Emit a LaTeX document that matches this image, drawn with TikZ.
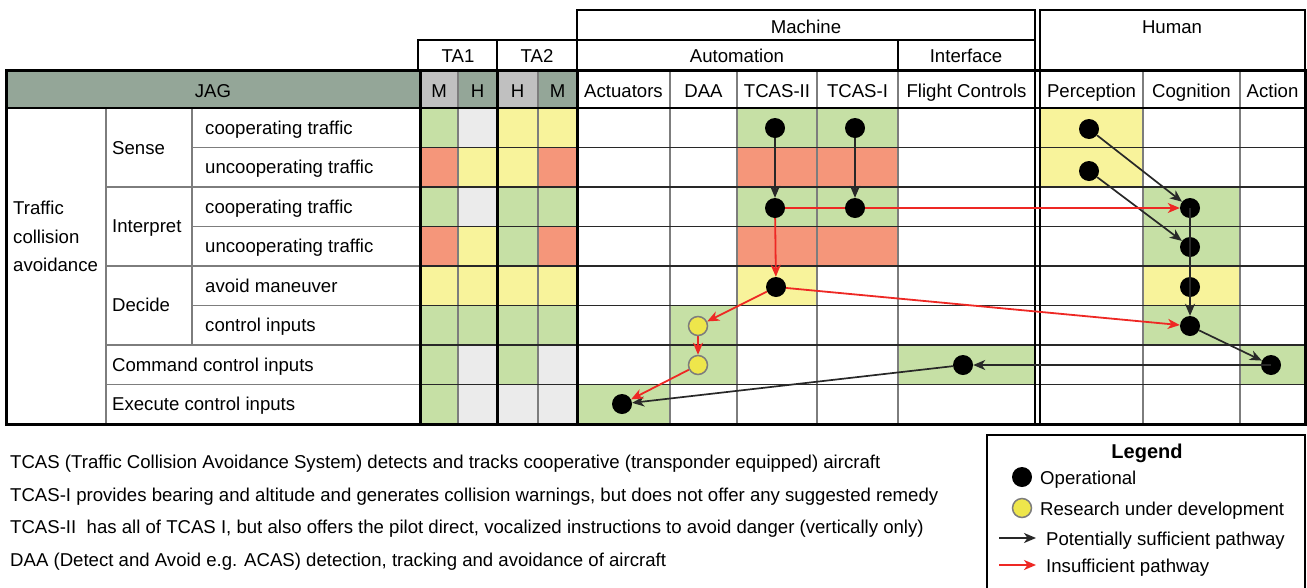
\documentclass[tikz,border=0pt]{standalone}
\usepackage{fontspec}
\setmainfont{Liberation Sans}
\usetikzlibrary{arrows.meta}
\pgfdeclarelayer{back}
\pgfdeclarelayer{conn}
\pgfsetlayers{back,conn,main}
\definecolor{cg}{RGB}{198,224,165}
\definecolor{cy}{RGB}{248,243,155}
\definecolor{cs}{RGB}{245,150,122}
\definecolor{cl}{RGB}{235,235,235}
\definecolor{jag}{RGB}{148,166,152}
\definecolor{hl}{RGB}{192,192,192}
\definecolor{dy}{RGB}{238,230,75}
\definecolor{ar}{RGB}{238,40,36}
\definecolor{ak}{RGB}{40,40,40}
\definecolor{gl}{RGB}{125,125,125}
\newcommand\cf[4]{\pgfmathsetmacro\ya{108+(#4-1)*39.5}\pgfmathsetmacro\yb{\ya+39.5}\fill[#1] (#2,\ya) rectangle (#3,\yb);}
\begin{document}
\begin{tikzpicture}[x=1pt,y=-1pt,
  every node/.style={font=\fontsize{18.6}{22}\selectfont, inner sep=0pt, text height=16pt, text depth=1pt},
  lbl/.style={anchor=west},
  dot/.style={circle, fill=black, minimum size=20pt, inner sep=0pt, text height=, text depth=},
  ydot/.style={circle, fill=dy, draw=gl, line width=1.5pt, minimum size=19pt, inner sep=0pt, text height=, text depth=},
  blk/.style={draw=ak, line width=1.7pt, -{Stealth[length=12pt,width=10pt,inset=3.5pt]}},
  rda/.style={draw=ar, line width=1.8pt, -{Stealth[length=12pt,width=10pt,inset=3.5pt]}},
  gline/.style={draw=gl, line width=1.2pt},
  hline/.style={draw=ak, line width=1.3pt},
  bord/.style={draw=black, line width=3pt},
  hbox/.style={draw=black, line width=1.5pt}]
\useasboundingbox (0,0) rectangle (1307,587);
\begin{pgfonlayer}{back}
\fill[white] (0,0) rectangle (1307,587);
% header row fills
\fill[jag] (6,70) rectangle (420,108);
\fill[hl] (420,70) rectangle (458,108);
\fill[jag] (458,70) rectangle (497,108);
\fill[hl] (497,70) rectangle (538,108);
\fill[jag] (538,70) rectangle (577,108);
% TA cells: M1 420-458, H1 458-497, H2 497-538, M2 538-577
\cf{cg}{420}{458}{1}\cf{cl}{458}{497}{1}\cf{cy}{497}{538}{1}\cf{cy}{538}{577}{1}
\cf{cs}{420}{458}{2}\cf{cy}{458}{497}{2}\cf{cy}{497}{538}{2}\cf{cs}{538}{577}{2}
\cf{cg}{420}{458}{3}\cf{cl}{458}{497}{3}\cf{cg}{497}{538}{3}\cf{cg}{538}{577}{3}
\cf{cs}{420}{458}{4}\cf{cy}{458}{497}{4}\cf{cg}{497}{538}{4}\cf{cs}{538}{577}{4}
\cf{cy}{420}{458}{5}\cf{cy}{458}{497}{5}\cf{cy}{497}{538}{5}\cf{cy}{538}{577}{5}
\cf{cg}{420}{458}{6}\cf{cg}{458}{497}{6}\cf{cg}{497}{538}{6}\cf{cg}{538}{577}{6}
\cf{cg}{420}{458}{7}\cf{cl}{458}{497}{7}\cf{cg}{497}{538}{7}\cf{cl}{538}{577}{7}
\cf{cg}{420}{458}{8}\cf{cl}{458}{497}{8}\cf{cl}{497}{538}{8}\cf{cl}{538}{577}{8}
% machine / human cells
\cf{cg}{737}{898}{1}\cf{cy}{1040}{1143}{1}
\cf{cs}{737}{898}{2}\cf{cy}{1040}{1143}{2}
\cf{cg}{737}{898}{3}\cf{cg}{1143}{1240}{3}
\cf{cs}{737}{898}{4}\cf{cg}{1143}{1240}{4}
\cf{cy}{737}{817}{5}\cf{cy}{1143}{1240}{5}
\cf{cg}{670}{737}{6}\cf{cg}{1143}{1240}{6}
\cf{cg}{670}{737}{7}\cf{cg}{898}{1035}{7}\cf{cg}{1240}{1305}{7}
\cf{cg}{577}{670}{8}
% thin vertical lines
\draw[gline] (106,108) -- (106,424);
\draw[gline] (192,108) -- (192,345);
\foreach \x in {458,538,670,737,817,898,1143,1240} \draw[gline] (\x,70) -- (\x,424);
% horizontal lines
\draw[gline] (192,147.5) -- (420,147.5);
\draw[gline] (106,187) -- (420,187);
\draw[gline] (192,226.5) -- (420,226.5);
\draw[gline] (106,266) -- (420,266);
\draw[gline] (192,305.5) -- (420,305.5);
\draw[gline] (106,345) -- (420,345);
\draw[gline] (106,384.5) -- (420,384.5);
\foreach \y in {147.5,187,226.5,266,305.5,345,384.5} \draw[hline] (420,\y) -- (1305,\y);
\draw[draw=black, line width=2pt] (6,108) -- (1305,108);
% thick lines
\draw[bord] (6,70) rectangle (1305,424);
\foreach \x in {420,497,577} \draw[bord] (\x,70) -- (\x,424);
\draw[draw=black, line width=1.8pt] (1035,70) -- (1035,424);
\draw[draw=black, line width=1.8pt] (1040,70) -- (1040,424);
% header boxes
\draw[hbox] (418,40) rectangle (497,70);
\draw[hbox] (497,40) rectangle (577,70);
\draw[hbox] (577,10) rectangle (1035,70);
\draw[hbox] (577,40) -- (1035,40);
\draw[hbox] (898,40) -- (898,70);
\draw[hbox] (1040,10) rectangle (1305,70);
% legend box
\draw[hbox] (987,595) -- (987,435) -- (1305,435) -- (1305,595);
\end{pgfonlayer}
% header texts
\node (machine) at (806,26) {Machine};
\node (human) at (1172,26) {Human};
\node (ta1) at (458,55) {TA1};
\node (ta2) at (537,55) {TA2};
\node (automation) at (737,55) {Automation};
\node (interface) at (966,55) {Interface};
\node (jagt) at (213,90) {JAG};
\node (hm1) at (439,90) {M};
\node (hh1) at (477.5,90) {H};
\node (hh2) at (517.5,90) {H};
\node (hm2) at (557.5,90) {M};
\node (hact) at (623.5,90) {Actuators};
\node (hdaa) at (703.5,90) {DAA};
\node (htc2) at (777,90) {TCAS-II};
\node (htc1) at (857.5,90) {TCAS-I};
\node (hfc) at (966.5,90) {Flight Controls};
\node (hper) at (1091.5,90) {Perception};
\node (hcog) at (1191.5,90) {Cognition};
\node (hactn) at (1272.5,90) {Action};
% row texts
\node[lbl] (tca1) at (13,207) {Traffic};
\node[lbl] (tca2) at (13,236) {collision};
\node[lbl] (tca3) at (13,264) {avoidance};
\node[lbl] (sense) at (112,147) {Sense};
\node[lbl] (interp) at (112,225) {Interpret};
\node[lbl] (decide) at (112,304) {Decide};
\node[lbl] (r1) at (205,126.5) {cooperating traffic};
\node[lbl] (r2) at (205,166) {uncooperating traffic};
\node[lbl] (r3) at (205,205.5) {cooperating traffic};
\node[lbl] (r4) at (205,245) {uncooperating traffic};
\node[lbl] (r5) at (205,284.5) {avoid maneuver};
\node[lbl] (r6) at (205,324) {control inputs};
\node[lbl] (r7) at (112,363.5) {Command control inputs};
\node[lbl] (r8) at (112,403) {Execute control inputs};
% dots
\node[dot] (t2a) at (775,128) {};
\node[dot] (t1a) at (855,128) {};
\node[dot] (t2c) at (775,208) {};
\node[dot] (t1c) at (855,208) {};
\node[dot] (t2e) at (776,287) {};
\node[ydot] (d6) at (698,326) {};
\node[ydot] (d7) at (698,365) {};
\node[dot] (act) at (622,404) {};
\node[dot] (fc) at (963,365) {};
\node[dot] (p1) at (1089,129) {};
\node[dot] (p2) at (1089,171) {};
\node[dot] (c3) at (1190,208) {};
\node[dot] (c4) at (1190,247) {};
\node[dot] (c5) at (1190,287) {};
\node[dot] (c6) at (1190,326) {};
\node[dot] (ac) at (1271,365) {};
\begin{pgfonlayer}{conn}
\draw[blk] (t2a) -- (t2c);
\draw[blk] (t1a) -- (t1c);
\draw[blk] (p1) -- (c3);
\draw[blk] (p2) -- (c4);
\draw[blk] (c6) -- (ac);
\draw[blk] (fc) -- (act);
\draw[rda] (t2c) -- (c3);
\draw[rda] (t2c) -- (t2e);
\draw[rda] (t2e) -- (d6);
\draw[rda] (t2e) -- (c6);
\draw[rda] (d6) -- (d7);
\draw[rda] (d7) -- (act);
\end{pgfonlayer}
\draw[blk] (c3.center) -- (c6);
\draw[blk] (ac.center) -- (fc);
% notes
\node[lbl] (n1) at (10,461) {TCAS (Traffic Collision Avoidance System) detects and tracks cooperative (transponder equipped) aircraft};
\node[lbl] (n2) at (10,494) {TCAS-I provides bearing and altitude and generates collision warnings, but does not offer any suggested remedy};
\node[lbl] (n3) at (10,526) {TCAS-II\ \ has all of TCAS I, but also offers the pilot direct, vocalized instructions to avoid danger (vertically only)};
\node[lbl] (n4) at (10,559) {DAA (Detect and Avoid e.g. ACAS) detection, tracking and avoidance of aircraft};
% legend
\node[font=\fontsize{20}{24}\selectfont\bfseries] (leg) at (1147,451) {Legend};
\node[dot] (ldot) at (1022,477) {};
\node[lbl] (lop) at (1040,477) {Operational};
\node[ydot] (lydot) at (1022,508) {};
\node[lbl] (lres) at (1040,508) {Research under development};
\coordinate (lka) at (999,538);
\coordinate (lkb) at (1036,538);
\draw[blk] (lka) -- (lkb);
\node[lbl] (lpot) at (1046,538) {Potentially sufficient pathway};
\coordinate (lra) at (999,565);
\coordinate (lrb) at (1036,565);
\draw[rda] (lra) -- (lrb);
\node[lbl] (lins) at (1046,565) {Insufficient pathway};
\end{tikzpicture}
\end{document}
